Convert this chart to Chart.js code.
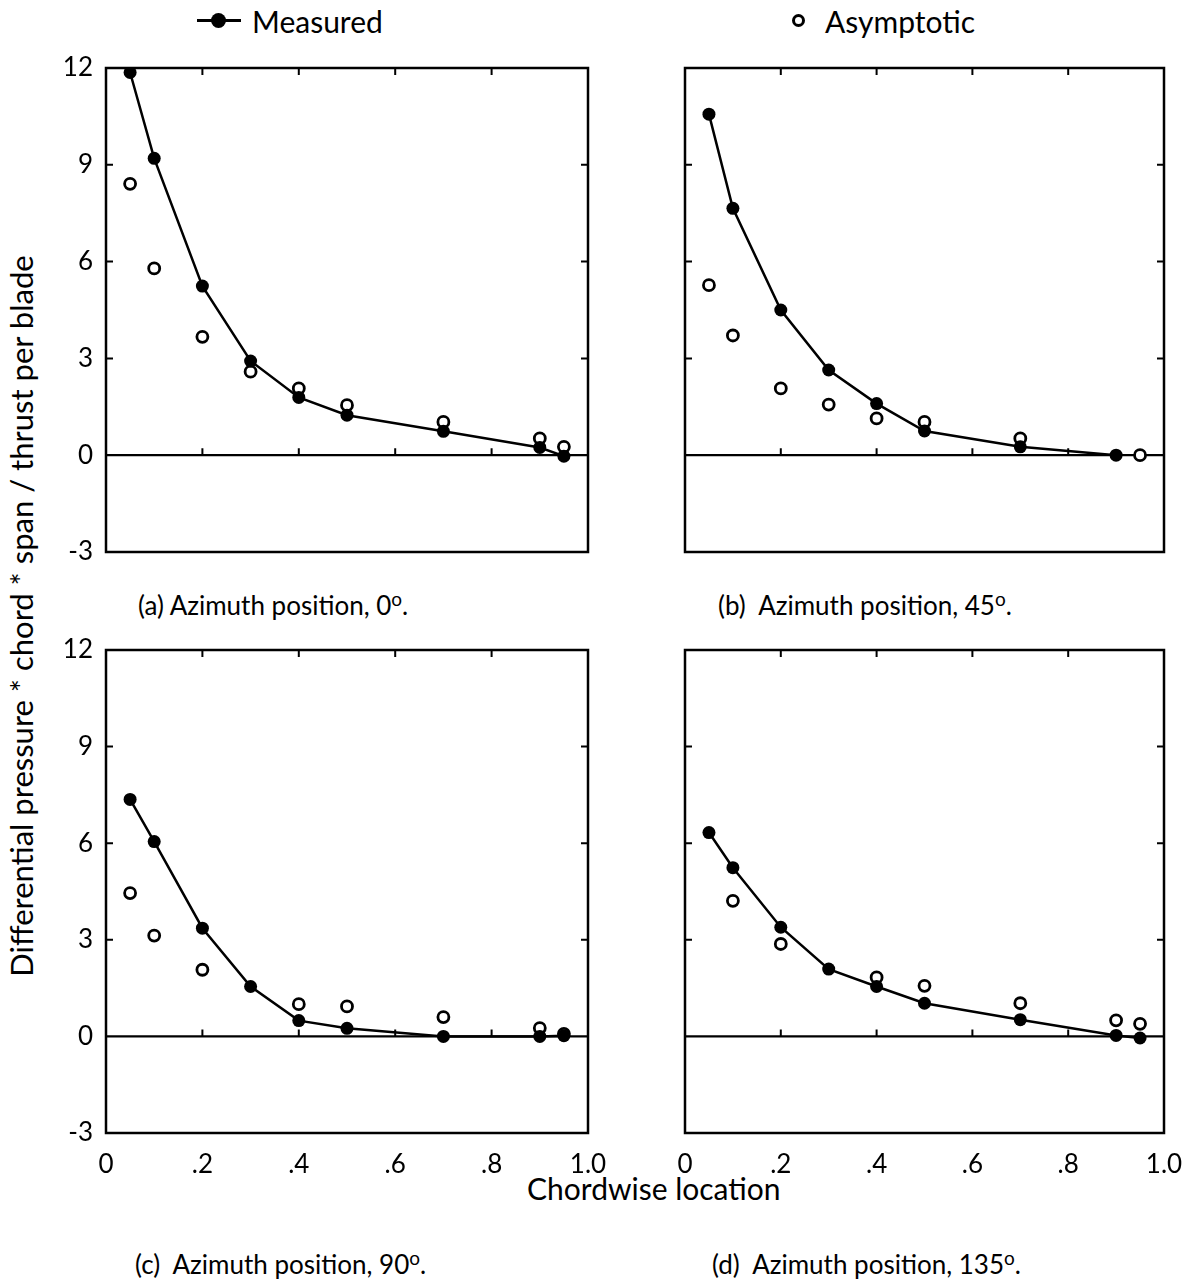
<!DOCTYPE html>
<html>
<head>
<meta charset="utf-8">
<script src="https://cdn.jsdelivr.net/npm/chart.js@4.4.1/dist/chart.umd.min.js"></script>
<style>
  body { margin: 0; background: #fff; width: 1184px; height: 1288px; position: relative; overflow: hidden; }
  canvas { position: absolute; }
  .txt { position: absolute; font-family: Lato, sans-serif; font-size: 26px; color: #000; white-space: nowrap; transform: translateY(-50%); }
  .txt sup { font-size: 19px; }
  .big { font-size: 30px; }
  #ytitle { font-size: 31px; transform: translate(-50%, -50%) rotate(-90deg); }
  .mk-line { position: absolute; height: 3px; background: #000; }
  .mk-dot { position: absolute; border-radius: 50%; box-sizing: border-box; }
</style>
</head>
<body>

<div class="mk-line" style="left:197px; top:19px; width:44px;"></div>
<div class="mk-dot" style="left:211px; top:13px; width:15px; height:15px; background:#000;"></div>
<div class="txt big" style="left:252px; top:21px;">Measured</div>
<div class="mk-dot" style="left:792px; top:14px; width:13px; height:13px; border:3px solid #000; background:#fff;"></div>
<div class="txt big" style="left:825px; top:21px;">Asymptotic</div>

<div class="txt" id="ytitle" style="left:21px; top:616px;">Differential pressure * chord * span / thrust per blade</div>
<div class="txt" style="left:138px; top:604px;">(a) Azimuth position, 0<sup>o</sup>.</div>
<div class="txt" style="left:718px; top:604px;">(b)&nbsp; Azimuth position, 45<sup>o</sup>.</div>
<div class="txt big" style="left:527px; top:1188px;">Chordwise location</div>
<div class="txt" style="left:135px; top:1263px;">(c)&nbsp; Azimuth position, 90<sup>o</sup>.</div>
<div class="txt" style="left:712px; top:1263px;">(d)&nbsp; Azimuth position, 135<sup>o</sup>.</div>

<script>
// chordwise stations
var chordX = [0.05, 0.1, 0.2, 0.3, 0.4, 0.5, 0.7, 0.9, 0.95];

// azimuth 0
var measured0 = [11.86, 9.2, 5.24, 2.92, 1.79, 1.24, 0.74, 0.24, -0.03];
var asym0 = [8.41, 5.79, 3.67, 2.59, 2.07, 1.55, 1.03, 0.52, 0.26];
// azimuth 45
var measured45 = [10.57, 7.65, 4.5, 2.64, 1.6, 0.75, 0.26, 0.0, null];
var asym45 = [5.27, 3.71, 2.07, 1.57, 1.14, 1.03, 0.52, null, 0.0];
// azimuth 90
var measured90 = [7.36, 6.05, 3.36, 1.55, 0.49, 0.25, 0.0, 0.0, 0.02];
var asym90 = [4.45, 3.13, 2.07, null, 1.0, 0.93, 0.6, 0.26, 0.08];
// azimuth 135
var measured135 = [6.33, 5.24, 3.39, 2.09, 1.55, 1.03, 0.52, 0.03, -0.05];
var asym135 = [null, 4.21, 2.87, null, 1.83, 1.57, 1.03, 0.5, 0.39];

var xTicks = [0, 0.2, 0.4, 0.6, 0.8, 1.0];
var yTicks = [-3, 0, 3, 6, 9, 12];

var panels = [
  { measured: measured0, asym: asym0, left: 106, top: 68, right: 588, bottom: 552, yLabels: true, xLabels: false },
  { measured: measured45, asym: asym45, left: 685, top: 68, right: 1164, bottom: 552, yLabels: false, xLabels: false },
  { measured: measured90, asym: asym90, left: 106, top: 650, right: 588, bottom: 1133, yLabels: true, xLabels: true },
  { measured: measured135, asym: asym135, left: 685, top: 650, right: 1164, bottom: 1133, yLabels: false, xLabels: true }
];

var AXIS_W = 60, AXIS_H = 50, PAD_T = 20, PAD_R = 20;

function points(ys) {
  var out = [];
  chordX.forEach(function(x, i) {
    if (ys[i] !== null) out.push({ x: x, y: ys[i] });
  });
  return out;
}

// frame, zero line and inward tick marks
var framePlugin = {
  id: 'frame',
  beforeDatasetsDraw: function(chart) {
    var ctx = chart.ctx, a = chart.chartArea;
    var xs = chart.scales.x, ys = chart.scales.y;
    var tl = 7;
    ctx.save();
    ctx.strokeStyle = '#000';
    ctx.lineWidth = 2.5;
    ctx.strokeRect(a.left, a.top, a.right - a.left, a.bottom - a.top);
    var y0 = ys.getPixelForValue(0);
    ctx.lineWidth = 2.2;
    ctx.beginPath();
    ctx.moveTo(a.left, y0);
    ctx.lineTo(a.right, y0);
    ctx.stroke();
    ctx.lineWidth = 2;
    ctx.beginPath();
    [0.2, 0.4, 0.6, 0.8].forEach(function(v) {
      var px = xs.getPixelForValue(v);
      ctx.moveTo(px, a.top); ctx.lineTo(px, a.top + tl);
      ctx.moveTo(px, y0); ctx.lineTo(px, y0 - tl);
    });
    [3, 6, 9].forEach(function(v) {
      var py = ys.getPixelForValue(v);
      ctx.moveTo(a.left, py); ctx.lineTo(a.left + tl, py);
      ctx.moveTo(a.right, py); ctx.lineTo(a.right - tl, py);
    });
    ctx.stroke();
    ctx.restore();
  }
};

document.addEventListener("DOMContentLoaded", function() {
  panels.forEach(function(p) {
    var cv = document.createElement('canvas');
    var w = (p.right - p.left) + AXIS_W + PAD_R;
    var h = (p.bottom - p.top) + PAD_T + AXIS_H;
    cv.width = w; cv.height = h;
    cv.style.left = (p.left - AXIS_W) + 'px';
    cv.style.top = (p.top - PAD_T) + 'px';
    cv.style.width = w + 'px'; cv.style.height = h + 'px';
    document.body.appendChild(cv);

    new Chart(cv.getContext('2d'), {
      type: 'scatter',
      data: {
        datasets: [{
          label: 'Measured',
          data: points(p.measured),
          showLine: true,
          borderColor: '#000',
          borderWidth: 2.5,
          pointRadius: 6.5,
          pointBackgroundColor: '#000',
          pointBorderColor: '#000',
          pointBorderWidth: 0,
          order: 1
        }, {
          label: 'Asymptotic',
          data: points(p.asym),
          showLine: false,
          pointRadius: 5.5,
          pointBackgroundColor: '#fff',
          pointBorderColor: '#000',
          pointBorderWidth: 2.8,
          order: 2
        }]
      },
      options: {
        responsive: false,
        animation: false,
        layout: { padding: { top: PAD_T, right: PAD_R, left: 0, bottom: 0 } },
        plugins: { legend: { display: false }, tooltip: { enabled: false } },
        scales: {
          x: {
            type: 'linear', min: 0, max: 1,
            afterBuildTicks: function(s) { s.ticks = xTicks.map(function(v) { return { value: v }; }); },
            afterFit: function(s) { s.height = AXIS_H; s.paddingLeft = 0; s.paddingRight = 0; },
            grid: { display: false, drawTicks: false },
            border: { display: false },
            ticks: {
              display: p.xLabels, padding: 16, color: '#000', maxRotation: 0,
              font: { family: 'Lato', size: 26 },
              callback: function(v) { return v === 0 ? '0' : v === 1 ? '1.0' : String(v.toFixed(1)).replace(/^0/, ''); }
            }
          },
          y: {
            type: 'linear', min: -3, max: 12,
            afterBuildTicks: function(s) { s.ticks = yTicks.map(function(v) { return { value: v }; }); },
            afterFit: function(s) { s.width = AXIS_W; s.paddingTop = 0; s.paddingBottom = 0; },
            grid: { display: false, drawTicks: false },
            border: { display: false },
            ticks: {
              display: p.yLabels, padding: 13, color: '#000',
              font: { family: 'Lato', size: 26 },
              callback: function(v) { return String(v); }
            }
          }
        }
      },
      plugins: [framePlugin]
    });
  });
});
</script>
</body>
</html>
